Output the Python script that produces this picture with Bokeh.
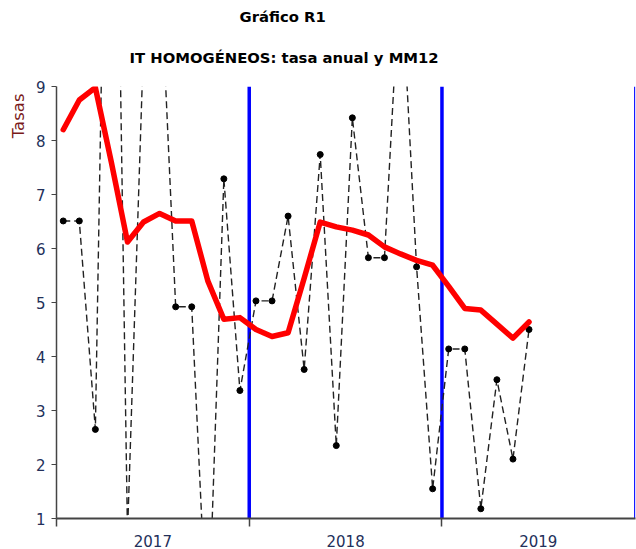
from bokeh.plotting import figure
from bokeh.models import FixedTicker, Span, Title
from bokeh.embed import file_html
from bokeh.resources import INLINE

# ---- data -------------------------------------------------------------
years = ["2017", "2018", "2019"]
months = [f"{y}-{m:02d}" for y in ("2017", "2018") for m in range(1, 13)] + \
         [f"2019-{m:02d}" for m in range(1, 7)]
# tasa anual (black dashed)
tasa_anual = [6.51, 6.51, 2.65, 20.0, 0.72, 9.8, 11.5, 4.92, 4.92, -1.4,
              7.29, 3.37, 5.03, 5.03, 6.60, 3.76, 7.74, 2.35, 8.42, 5.83,
              5.83, 11.3, 5.66, 1.55, 4.14, 4.14, 1.18, 3.57, 2.10, 4.50]
# media movil 12 meses (red)
mm12 = [8.20, 8.75, 8.98, 7.59, 6.12, 6.49, 6.65, 6.51, 6.51, 5.40,
        4.69, 4.72, 4.50, 4.37, 4.44, 5.45, 6.49, 6.40, 6.34, 6.25,
        6.03, 5.90, 5.78, 5.69, 5.30, 4.89, 4.86, 4.60, 4.34, 4.64]
y_ticks = [1, 2, 3, 4, 5, 6, 7, 8, 9]

# month index -> x position (months since Jan 2017)
x = [i + 0.42 for i in range(len(months))]
n_years = len(years)
year_starts = [12 * k for k in range(n_years + 1)]
year_mids = [12 * k + 6 for k in range(n_years)]

TXT = "#23305a"

p = figure(width=636, height=549, x_range=(0, 12 * n_years + 0.05), y_range=(1, 9),
           output_backend="svg", toolbar_location=None,
           min_border_left=56, min_border_right=1, min_border_top=86, min_border_bottom=30)
p.background_fill_color = "white"
p.outline_line_color = None
p.xgrid.visible = False
p.ygrid.visible = False

# year boundaries
for b in year_starts[1:-1]:
    p.add_layout(Span(location=b, dimension="height", line_color="#0000ff",
                      line_width=3.5, level="underlay"))
p.add_layout(Span(location=year_starts[-1], dimension="height", line_color="#0000ff",
                  line_width=1.2, level="underlay"))

p.line(x, tasa_anual, line_color="#222222", line_width=1.4, line_dash="7 4")
p.scatter(x, tasa_anual, size=6, fill_color="black", line_color="black")
p.line(x, mm12, line_color="#ff0000", line_width=5.5, line_join="round", line_cap="round")

# y axis
ya = p.yaxis[0]
ya.ticker = FixedTicker(ticks=y_ticks)
ya.axis_line_color = "#444444"
ya.axis_line_width = 1.5
ya.major_tick_line_color = "#444444"
ya.major_tick_out = 5
ya.major_tick_in = 0
ya.minor_tick_line_color = None
ya.major_label_standoff = 6
ya.major_label_text_font = "DejaVu Sans"
ya.major_label_text_font_size = "15px"
ya.major_label_text_color = TXT

# x axis
xa = p.xaxis[0]
xa.ticker = FixedTicker(ticks=year_mids, minor_ticks=year_starts[:-1])
xa.major_label_overrides = {m: y for m, y in zip(year_mids, years)}
xa.axis_line_color = "#444444"
xa.axis_line_width = 2
xa.major_tick_line_color = None
xa.major_tick_out = 0
xa.major_tick_in = 0
xa.minor_tick_line_color = "#444444"
xa.minor_tick_line_width = 1.5
xa.minor_tick_out = 8
xa.minor_tick_in = 0
xa.major_label_standoff = 8
xa.major_label_text_font = "DejaVu Sans"
xa.major_label_text_font_size = "15px"
xa.major_label_text_color = TXT

# titles (first added is nearest the frame)
p.add_layout(Title(text="IT HOMOGÉNEOS: tasa anual  y MM12", align="left", offset=73,
                   standoff=41, text_font="DejaVu Sans", text_font_style="bold",
                   text_font_size="14.8px", text_color="black"), "above")
p.add_layout(Title(text="Gráfico R1", align="left", offset=183, standoff=4,
                   text_font="DejaVu Sans", text_font_style="bold",
                   text_font_size="14.8px", text_color="black"), "above")
# y label
p.add_layout(Title(text="Tasas", align="right", offset=7,
                   text_font="DejaVu Sans", text_font_style="normal",
                   text_font_size="16.5px", text_color="#7a1a1a"), "left")

open("out.html", "w").write(file_html(p, INLINE))
